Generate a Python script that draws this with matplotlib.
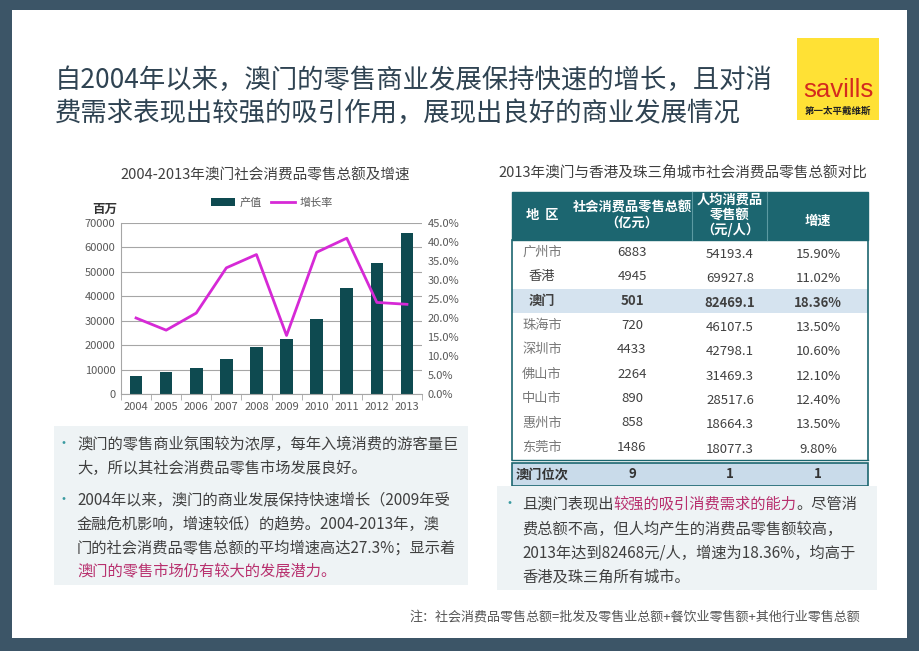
import numpy as np
import matplotlib
matplotlib.use('Agg')
import matplotlib.pyplot as plt
from matplotlib.patches import Rectangle, Patch
from matplotlib.lines import Line2D
from matplotlib.ticker import FuncFormatter, FixedLocator

plt.rcParams['font.family'] = ['Noto Sans CJK SC', 'DejaVu Sans']

# ---- data ----
years = ['2004', '2005', '2006', '2007', '2008', '2009', '2010', '2011', '2012', '2013']
retail_value = [7500, 8850, 10750, 14300, 19400, 22450, 30550, 43200, 53500, 66100]  # 百万
growth_rate = [20.0, 16.8, 21.3, 33.2, 36.7, 15.4, 37.3, 41.0, 24.1, 23.6]  # %

regions = ['广州市', '香港', '澳门', '珠海市', '深圳市', '佛山市', '中山市', '惠州市', '东莞市']
retail_total = [6883, 4945, 501, 720, 4433, 2264, 890, 858, 1486]  # 亿元
per_capita = [54193.4, 69927.8, 82469.1, 46107.5, 42798.1, 31469.3, 28517.6, 18664.3, 18077.3]
growth_2013 = [15.90, 11.02, 18.36, 13.50, 10.60, 12.10, 12.40, 13.50, 9.80]
macau_rank = ['9', '1', '1']
table_headers = ['地  区', '社会消费品零售总额\n（亿元）', '人均消费品\n零售额\n（元/人）', '增速']

W, H = 920, 651
frame_col = '#3c5567'
bar_col = '#0e4a50'
line_col = '#d629d6'
teal = '#1c6670'
text_col = '#404040'
accent = '#b8306e'

fig = plt.figure(figsize=(W / 100, H / 100), dpi=100)
fig.patch.set_facecolor(frame_col)

# full-figure overlay in pixel coordinates
bg = fig.add_axes([0, 0, 1, 1], zorder=0)
bg.set_xlim(0, W)
bg.set_ylim(H, 0)
bg.axis('off')
bg.add_patch(Rectangle((12, 10), 895, 628, facecolor='white', edgecolor='none'))

# title
bg.text(55, 80, '自2004年以来，澳门的零售商业发展保持快速的增长，且对消', fontsize=19,
        color='#2f4352', va='center', ha='left')
bg.text(55, 113, '费需求表现出较强的吸引作用，展现出良好的商业发展情况', fontsize=19,
        color='#2f4352', va='center', ha='left')

# logo
bg.add_patch(Rectangle((797, 38), 82, 82, facecolor='#ffe135', edgecolor='none'))
bg.text(838, 90, 'savills', fontsize=18.5, color='#d42a1e', ha='center', va='center',
        family='Liberation Sans')
bg.text(838, 111, '第一太平戴维斯', fontsize=6.8, color='#222222', ha='center', va='center',
        fontweight='bold')

# ---- left chart ----
bg.text(265, 175, '2004-2013年澳门社会消费品零售总额及增速', fontsize=10.5, color=text_col,
        ha='center', va='center')
bg.text(105, 209, '百万', fontsize=9, color='#333333', ha='center', va='center', fontweight='bold')

ax = fig.add_axes([121 / W, 1 - 394 / H, 301 / W, 171 / H], zorder=2)
ax.patch.set_alpha(0)
x = np.arange(len(years))
bars = ax.bar(x, retail_value, width=0.42, color=bar_col, zorder=2)
ax.set_xlim(-0.5, len(years) - 0.5)
ax.set_ylim(0, 70000)
ax.set_yticks(np.arange(0, 70001, 10000))
ax.set_xticks(x)
ax.set_xticklabels(years)
ax.xaxis.set_minor_locator(FixedLocator(np.arange(-0.5, len(years), 1)))
ax.tick_params(axis='x', which='major', length=0, pad=6, labelsize=8, labelcolor='#595959')
ax.tick_params(axis='x', which='minor', length=4, color='#a6a6a6')
ax.tick_params(axis='y', length=0, pad=4, labelsize=8, labelcolor='#595959')
ax.yaxis.grid(True, color='#a6a6a6', lw=0.8)
ax.set_axisbelow(True)
for s in ['top', 'right']:
    ax.spines[s].set_visible(False)
ax.spines['left'].set_color('#a6a6a6')
ax.spines['bottom'].set_color('#a6a6a6')

ax2 = ax.twinx()
ax2.plot(x, np.array(growth_rate) / 100, color=line_col, lw=2, zorder=3)
ax2.set_ylim(0, 0.45)
ax2.set_yticks(np.arange(0, 0.451, 0.05))
ax2.yaxis.set_major_formatter(FuncFormatter(lambda v, p: f'{v * 100:.1f}%'))
ax2.tick_params(axis='y', length=0, pad=4, labelsize=8, labelcolor='#595959')
for s in ax2.spines.values():
    s.set_visible(False)

handles = [Patch(facecolor=bar_col), Line2D([0], [0], color=line_col, lw=2)]
fig.legend(handles, ['产值', '增长率'], loc='center', bbox_to_anchor=(272 / W, 1 - 203 / H),
           ncol=2, frameon=False, fontsize=8, labelcolor='#595959', handlelength=2.2,
           handleheight=0.7, columnspacing=0.8, handletextpad=0.4)

# ---- left text box ----
bg.add_patch(Rectangle((54, 426), 414, 159, facecolor='#eef3f5', edgecolor='none'))
left_lines = [
    (444, '澳门的零售商业氛围较为浓厚，每年入境消费的游客量巨', True, text_col),
    (468, '大，所以其社会消费品零售市场发展良好。', False, text_col),
    (500, '2004年以来，澳门的商业发展保持快速增长（2009年受', True, text_col),
    (524, '金融危机影响，增速较低）的趋势。2004-2013年，澳', False, text_col),
    (548, '门的社会消费品零售总额的平均增速高达27.3%；显示着', False, text_col),
    (572, '澳门的零售市场仍有较大的发展潜力。', False, accent),
]
for yy, s, bullet, c in left_lines:
    if bullet:
        bg.text(64, yy, '•', fontsize=10, color='#3a9aa0', ha='center', va='center')
    bg.text(77, yy, s, fontsize=11, color=c, ha='left', va='center')

# ---- table ----
bg.text(683, 172, '2013年澳门与香港及珠三角城市社会消费品零售总额对比', fontsize=10.5,
        color=text_col, ha='center', va='center')
col_edges = [512, 573, 692, 767, 868]
col_centers = [542, 632, 730, 818]
head_top, head_bot = 192, 240
row_h = 24.4
body_bot = head_bot + row_h * len(regions)

bg.add_patch(Rectangle((512, head_top), 356, head_bot - head_top, facecolor=teal, edgecolor=teal, lw=1))
for xe in col_edges[2:4]:
    bg.plot([xe, xe], [head_top, head_bot], color='#5c9aa2', lw=0.8)
for i, h in enumerate(table_headers):
    yh = 221 if i == 3 else 215
    bg.text(col_centers[i], yh, h, fontsize=9.5, color='white', fontweight='bold',
            ha='center', va='center', linespacing=1.1)

macau_idx = regions.index('澳门')
bg.add_patch(Rectangle((512, head_bot + row_h * macau_idx), 356, row_h, facecolor='#d5e3ef',
                       edgecolor='none'))
bg.plot([512, 512], [head_bot, body_bot], color=teal, lw=1.2)
bg.plot([868, 868], [head_bot, body_bot], color=teal, lw=1.2)
for i, r in enumerate(regions):
    yc = head_bot + row_h * (i + 0.5)
    bold = 'bold' if r == '澳门' else 'normal'
    name_col = text_col if r in ('香港', '澳门') else '#777777'
    bg.text(col_centers[0], yc, r, fontsize=9.5, color=name_col, ha='center', va='center',
            fontweight=bold)
    vals = [f'{retail_total[i]}', f'{per_capita[i]:.1f}', f'{growth_2013[i]:.2f}%']
    for j, v in enumerate(vals):
        bg.text(col_centers[j + 1], yc + (0 if j == 0 else 2), v, fontsize=9.5, color=text_col,
                ha='center', va='center', fontweight=bold)

bg.plot([512, 868], [body_bot, body_bot], color=teal, lw=1)
bg.add_patch(Rectangle((512, body_bot + 3), 356, 23, facecolor='#c9dbea', edgecolor=teal, lw=1.2))
rank_y = body_bot + 3 + 11.5
bg.text(542, rank_y, '澳门位次', fontsize=9.5, color='#333333', fontweight='bold',
        ha='center', va='center')
for j, v in enumerate(macau_rank):
    bg.text(col_centers[j + 1], rank_y, v, fontsize=9.5, color='#333333', fontweight='bold',
            ha='center', va='center')

# ---- right text box ----
bg.add_patch(Rectangle((497, 486), 380, 104, facecolor='#eef3f5', edgecolor='none'))
bg.text(510, 504, '•', fontsize=10, color='#3a9aa0', ha='center', va='center')
renderer = fig.canvas.get_renderer()
xx = 522
for seg, c in [('且澳门表现出', text_col), ('较强的吸引消费需求的能力', accent), ('。尽管消', text_col)]:
    t = bg.text(xx, 504, seg, fontsize=11, color=c, ha='left', va='center')
    bb = t.get_window_extent(renderer=renderer)
    xx += bb.width * W / fig.bbox.width
right_lines = [
    (529, '费总额不高，但人均产生的消费品零售额较高，'),
    (553, '2013年达到82468元/人，增速为18.36%，均高于'),
    (577, '香港及珠三角所有城市。'),
]
for yy, s in right_lines:
    bg.text(522, yy, s, fontsize=11, color=text_col, ha='left', va='center')

# footnote
bg.text(410, 617, '注：社会消费品零售总额=批发及零售业总额+餐饮业零售额+其他行业零售总额',
        fontsize=9.4, color='#555555', ha='left', va='center')

fig.savefig('out.png', dpi=100, facecolor=fig.get_facecolor())
